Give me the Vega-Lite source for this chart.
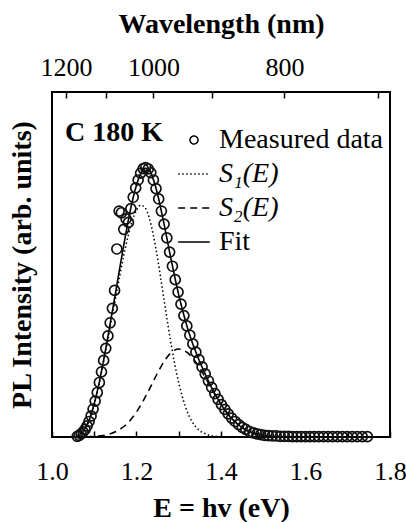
{
  "$schema": "https://vega.github.io/schema/vega-lite/v6.json",
  "width": 338,
  "height": 345,
  "autosize": {"type": "none"},
  "padding": {"left": 52, "top": 92, "right": 16, "bottom": 85},
  "background": "white",
  "datasets": {
    "meas": [
      {"E":1.0598,"I":0.002},{"E":1.0644,"I":0.005},{"E":1.0690,"I":0.009},{"E":1.0736,"I":0.015},
      {"E":1.0783,"I":0.022},{"E":1.0830,"I":0.032},{"E":1.0877,"I":0.045},{"E":1.0925,"I":0.061},
      {"E":1.0973,"I":0.081},{"E":1.1022,"I":0.104},{"E":1.1071,"I":0.129},{"E":1.1121,"I":0.158},
      {"E":1.1171,"I":0.189},{"E":1.1222,"I":0.222},{"E":1.1273,"I":0.257},{"E":1.1324,"I":0.293},
      {"E":1.1376,"I":0.331},{"E":1.1429,"I":0.373},{"E":1.1481,"I":0.425},{"E":1.1535,"I":0.545},
      {"E":1.1589,"I":0.655},{"E":1.1643,"I":0.650},{"E":1.1698,"I":0.602},{"E":1.1754,"I":0.632},
      {"E":1.1810,"I":0.622},{"E":1.1866,"I":0.662},{"E":1.1923,"I":0.695},{"E":1.1981,"I":0.722},
      {"E":1.2039,"I":0.745},{"E":1.2098,"I":0.765},{"E":1.2157,"I":0.778},{"E":1.2217,"I":0.781},
      {"E":1.2277,"I":0.777},{"E":1.2338,"I":0.766},{"E":1.2400,"I":0.745},{"E":1.2462,"I":0.720},
      {"E":1.2525,"I":0.690},{"E":1.2589,"I":0.655},{"E":1.2653,"I":0.617},{"E":1.2718,"I":0.577},
      {"E":1.2784,"I":0.536},{"E":1.2850,"I":0.495},{"E":1.2917,"I":0.456},{"E":1.2984,"I":0.420},
      {"E":1.3053,"I":0.385},{"E":1.3122,"I":0.352},{"E":1.3191,"I":0.322},{"E":1.3262,"I":0.295},
      {"E":1.3333,"I":0.270},{"E":1.3405,"I":0.246},{"E":1.3478,"I":0.224},{"E":1.3552,"I":0.203},
      {"E":1.3626,"I":0.183},{"E":1.3702,"I":0.163},{"E":1.3778,"I":0.144},{"E":1.3855,"I":0.126},
      {"E":1.3933,"I":0.109},{"E":1.4011,"I":0.094},{"E":1.4091,"I":0.080},{"E":1.4171,"I":0.067},
      {"E":1.4253,"I":0.055},{"E":1.4335,"I":0.045},{"E":1.4419,"I":0.036},{"E":1.4503,"I":0.028},
      {"E":1.4588,"I":0.022},{"E":1.4675,"I":0.016},{"E":1.4762,"I":0.012},{"E":1.4850,"I":0.009},
      {"E":1.4940,"I":0.007},{"E":1.5030,"I":0.005},{"E":1.5122,"I":0.004},{"E":1.5215,"I":0.003},
      {"E":1.5309,"I":0.003},{"E":1.5404,"I":0.002},{"E":1.5500,"I":0.002},{"E":1.5597,"I":0.002},
      {"E":1.5696,"I":0.001},{"E":1.5796,"I":0.001},{"E":1.5897,"I":0.001},{"E":1.6000,"I":0.001},
      {"E":1.6104,"I":0.001},{"E":1.6209,"I":0.001},{"E":1.6316,"I":0.001},{"E":1.6424,"I":0.001},
      {"E":1.6533,"I":0.001},{"E":1.6644,"I":0.001},{"E":1.6757,"I":0.001},{"E":1.6871,"I":0.001},
      {"E":1.6986,"I":0.001},{"E":1.7103,"I":0.001},{"E":1.7222,"I":0.001},{"E":1.7343,"I":0.001},
      {"E":1.7465,"I":0.001}
    ],
    "curves": [
      {"E":1.06,"I":0.005,"series":"S₁(E)"},{"E":1.07,"I":0.012,"series":"S₁(E)"},{"E":1.08,"I":0.028,"series":"S₁(E)"},
      {"E":1.09,"I":0.055,"series":"S₁(E)"},{"E":1.10,"I":0.095,"series":"S₁(E)"},{"E":1.11,"I":0.145,"series":"S₁(E)"},
      {"E":1.12,"I":0.205,"series":"S₁(E)"},{"E":1.13,"I":0.268,"series":"S₁(E)"},{"E":1.14,"I":0.335,"series":"S₁(E)"},
      {"E":1.15,"I":0.400,"series":"S₁(E)"},{"E":1.16,"I":0.465,"series":"S₁(E)"},{"E":1.17,"I":0.527,"series":"S₁(E)"},
      {"E":1.18,"I":0.582,"series":"S₁(E)"},{"E":1.19,"I":0.627,"series":"S₁(E)"},{"E":1.20,"I":0.658,"series":"S₁(E)"},
      {"E":1.21,"I":0.672,"series":"S₁(E)"},{"E":1.22,"I":0.665,"series":"S₁(E)"},{"E":1.23,"I":0.636,"series":"S₁(E)"},
      {"E":1.24,"I":0.584,"series":"S₁(E)"},{"E":1.25,"I":0.517,"series":"S₁(E)"},{"E":1.26,"I":0.439,"series":"S₁(E)"},
      {"E":1.27,"I":0.360,"series":"S₁(E)"},{"E":1.28,"I":0.283,"series":"S₁(E)"},{"E":1.29,"I":0.215,"series":"S₁(E)"},
      {"E":1.30,"I":0.157,"series":"S₁(E)"},{"E":1.31,"I":0.110,"series":"S₁(E)"},{"E":1.32,"I":0.074,"series":"S₁(E)"},
      {"E":1.33,"I":0.048,"series":"S₁(E)"},{"E":1.34,"I":0.030,"series":"S₁(E)"},{"E":1.35,"I":0.018,"series":"S₁(E)"},
      {"E":1.36,"I":0.011,"series":"S₁(E)"},{"E":1.37,"I":0.006,"series":"S₁(E)"},{"E":1.38,"I":0.003,"series":"S₁(E)"},
      {"E":1.39,"I":0.0015,"series":"S₁(E)"},{"E":1.40,"I":0.0007,"series":"S₁(E)"},

      {"E":1.08,"I":0.0006,"series":"S₂(E)"},{"E":1.09,"I":0.001,"series":"S₂(E)"},{"E":1.10,"I":0.0016,"series":"S₂(E)"},
      {"E":1.11,"I":0.0027,"series":"S₂(E)"},{"E":1.12,"I":0.0043,"series":"S₂(E)"},{"E":1.13,"I":0.0067,"series":"S₂(E)"},
      {"E":1.14,"I":0.0101,"series":"S₂(E)"},{"E":1.15,"I":0.0150,"series":"S₂(E)"},{"E":1.16,"I":0.0216,"series":"S₂(E)"},
      {"E":1.17,"I":0.0304,"series":"S₂(E)"},{"E":1.18,"I":0.0416,"series":"S₂(E)"},{"E":1.19,"I":0.0556,"series":"S₂(E)"},
      {"E":1.20,"I":0.0724,"series":"S₂(E)"},{"E":1.21,"I":0.092,"series":"S₂(E)"},{"E":1.22,"I":0.114,"series":"S₂(E)"},
      {"E":1.23,"I":0.1376,"series":"S₂(E)"},{"E":1.24,"I":0.162,"series":"S₂(E)"},{"E":1.25,"I":0.186,"series":"S₂(E)"},
      {"E":1.26,"I":0.2085,"series":"S₂(E)"},{"E":1.27,"I":0.2277,"series":"S₂(E)"},{"E":1.28,"I":0.2425,"series":"S₂(E)"},
      {"E":1.29,"I":0.2518,"series":"S₂(E)"},{"E":1.30,"I":0.255,"series":"S₂(E)"},{"E":1.31,"I":0.2525,"series":"S₂(E)"},
      {"E":1.32,"I":0.245,"series":"S₂(E)"},{"E":1.33,"I":0.2332,"series":"S₂(E)"},{"E":1.34,"I":0.2176,"series":"S₂(E)"},
      {"E":1.35,"I":0.199,"series":"S₂(E)"},{"E":1.36,"I":0.1785,"series":"S₂(E)"},{"E":1.37,"I":0.1568,"series":"S₂(E)"},
      {"E":1.38,"I":0.1351,"series":"S₂(E)"},{"E":1.39,"I":0.1142,"series":"S₂(E)"},{"E":1.40,"I":0.0946,"series":"S₂(E)"},
      {"E":1.41,"I":0.0768,"series":"S₂(E)"},{"E":1.42,"I":0.0611,"series":"S₂(E)"},{"E":1.43,"I":0.0477,"series":"S₂(E)"},
      {"E":1.44,"I":0.0365,"series":"S₂(E)"},{"E":1.45,"I":0.0274,"series":"S₂(E)"},{"E":1.46,"I":0.0201,"series":"S₂(E)"},
      {"E":1.47,"I":0.0145,"series":"S₂(E)"},{"E":1.48,"I":0.0103,"series":"S₂(E)"},{"E":1.49,"I":0.0071,"series":"S₂(E)"},
      {"E":1.50,"I":0.0048,"series":"S₂(E)"},{"E":1.51,"I":0.0032,"series":"S₂(E)"},{"E":1.52,"I":0.0021,"series":"S₂(E)"},
      {"E":1.53,"I":0.0013,"series":"S₂(E)"},{"E":1.54,"I":0.0008,"series":"S₂(E)"},{"E":1.56,"I":0.0003,"series":"S₂(E)"},
      {"E":1.58,"I":0.0001,"series":"S₂(E)"},

      {"E":1.06,"I":0.005,"series":"Fit"},{"E":1.07,"I":0.012,"series":"Fit"},{"E":1.08,"I":0.029,"series":"Fit"},
      {"E":1.09,"I":0.056,"series":"Fit"},{"E":1.10,"I":0.097,"series":"Fit"},{"E":1.11,"I":0.148,"series":"Fit"},
      {"E":1.12,"I":0.209,"series":"Fit"},{"E":1.13,"I":0.275,"series":"Fit"},{"E":1.14,"I":0.345,"series":"Fit"},
      {"E":1.15,"I":0.415,"series":"Fit"},{"E":1.16,"I":0.487,"series":"Fit"},{"E":1.17,"I":0.557,"series":"Fit"},
      {"E":1.18,"I":0.624,"series":"Fit"},{"E":1.19,"I":0.683,"series":"Fit"},{"E":1.20,"I":0.730,"series":"Fit"},
      {"E":1.21,"I":0.764,"series":"Fit"},{"E":1.22,"I":0.779,"series":"Fit"},{"E":1.23,"I":0.774,"series":"Fit"},
      {"E":1.24,"I":0.746,"series":"Fit"},{"E":1.25,"I":0.703,"series":"Fit"},{"E":1.26,"I":0.648,"series":"Fit"},
      {"E":1.27,"I":0.588,"series":"Fit"},{"E":1.28,"I":0.526,"series":"Fit"},{"E":1.29,"I":0.467,"series":"Fit"},
      {"E":1.30,"I":0.412,"series":"Fit"},{"E":1.31,"I":0.363,"series":"Fit"},{"E":1.32,"I":0.319,"series":"Fit"},
      {"E":1.33,"I":0.281,"series":"Fit"},{"E":1.34,"I":0.248,"series":"Fit"},{"E":1.35,"I":0.217,"series":"Fit"},
      {"E":1.36,"I":0.190,"series":"Fit"},{"E":1.37,"I":0.163,"series":"Fit"},{"E":1.38,"I":0.138,"series":"Fit"},
      {"E":1.39,"I":0.116,"series":"Fit"},{"E":1.40,"I":0.095,"series":"Fit"},{"E":1.41,"I":0.077,"series":"Fit"},
      {"E":1.42,"I":0.061,"series":"Fit"},{"E":1.43,"I":0.048,"series":"Fit"},{"E":1.44,"I":0.037,"series":"Fit"},
      {"E":1.45,"I":0.027,"series":"Fit"},{"E":1.46,"I":0.020,"series":"Fit"},{"E":1.47,"I":0.015,"series":"Fit"},
      {"E":1.48,"I":0.010,"series":"Fit"},{"E":1.49,"I":0.007,"series":"Fit"},{"E":1.50,"I":0.005,"series":"Fit"},
      {"E":1.51,"I":0.003,"series":"Fit"},{"E":1.52,"I":0.002,"series":"Fit"},{"E":1.53,"I":0.001,"series":"Fit"},
      {"E":1.54,"I":0.001,"series":"Fit"},{"E":1.56,"I":0.0003,"series":"Fit"},{"E":1.60,"I":0.0001,"series":"Fit"},
      {"E":1.65,"I":0.0,"series":"Fit"},{"E":1.70,"I":0.0,"series":"Fit"},{"E":1.75,"I":0.0,"series":"Fit"}
    ],
    "ann": [
      {"E":1.031,"I":0.881,"label":"C 180 K"}
    ]
  },
  "layer": [
    {
      "data": {"name": "curves"},
      "mark": {"type": "line", "interpolate": "monotone", "color": "black"},
      "encoding": {
        "x": {
          "field": "E", "type": "quantitative",
          "scale": {"domain": [1.0, 1.8], "nice": false, "zero": false},
          "axis": {
            "orient": "bottom",
            "values": [1.0, 1.1, 1.2, 1.3, 1.4, 1.5, 1.6, 1.7, 1.8],
            "labelExpr": "round(datum.value*10) % 2 == 0 ? format(datum.value, '.1f') : ''",
            "title": "E = hv (eV)",
            "labelPadding": 27,
            "titlePadding": 10
          }
        },
        "y": {
          "field": "I", "type": "quantitative",
          "scale": {"domain": [0, 1], "nice": false, "zero": true},
          "axis": {
            "title": "PL Intensity (arb. units)",
            "labels": false, "ticks": false, "domain": false,
            "titlePadding": 16
          }
        },
        "strokeDash": {
          "field": "series", "type": "nominal",
          "scale": {"domain": ["Measured data", "S₁(E)", "S₂(E)", "Fit"], "range": [[1, 0], [1.5, 2.5], [7, 5], [1, 0]]},
          "legend": {
            "orient": "none", "legendX": 125, "legendY": 31, "title": null,
            "padding": 0, "rowPadding": 3, "labelOffset": 8, "labelLimit": 400,
            "labelFont": "Liberation Serif", "labelFontSize": 28, "labelColor": "black",
            "symbolSize": 1000, "symbolStrokeColor": "black", "symbolStrokeWidth": 1.5,
            "symbolType": "stroke",
            "encode": {
              "symbols": {"update": {
                "shape": {"signal": "datum.value === 'Measured data' ? 'circle' : 'stroke'"},
                "size": {"signal": "datum.value === 'Measured data' ? 64 : 1000"},
                "fill": {"value": "transparent"},
                "stroke": {"value": "black"},
                "opacity": {"value": 1}
              }},
              "labels": {"update": {
                "fontStyle": {"signal": "datum.value === 'Fit' || datum.value === 'Measured data' ? 'normal' : 'italic'"}
              }}
            }
          }
        },
        "strokeWidth": {
          "field": "series", "type": "nominal",
          "scale": {"domain": ["Measured data", "S₁(E)", "S₂(E)", "Fit"], "range": [1.5, 1.6, 1.8, 2]},
          "legend": null
        }
      }
    },
    {
      "data": {"name": "meas"},
      "mark": {"type": "point", "filled": false, "size": 100, "strokeWidth": 1.7, "color": "#111", "opacity": 1},
      "encoding": {
        "x": {
          "field": "E", "type": "quantitative",
          "axis": {
            "orient": "top",
            "values": [1.0333, 1.1273, 1.24, 1.3778, 1.55, 1.7714],
            "labelExpr": "round(1240/datum.value) % 200 == 0 ? '' + round(1240/datum.value) : ''",
            "title": "Wavelength (nm)",
            "labelPadding": 18,
            "titlePadding": 16
          }
        },
        "y": {"field": "I", "type": "quantitative", "axis": null}
      }
    },
    {
      "data": {"name": "ann"},
      "mark": {"type": "text", "align": "left", "baseline": "middle", "fontSize": 28, "fontWeight": "bold", "font": "Liberation Serif", "color": "black"},
      "encoding": {
        "x": {"field": "E", "type": "quantitative", "axis": null},
        "y": {"field": "I", "type": "quantitative", "axis": null},
        "text": {"field": "label"}
      }
    }
  ],
  "resolve": {"axis": {"x": "independent", "y": "independent"}},
  "config": {
    "font": "Liberation Serif",
    "view": {"stroke": "black", "strokeWidth": 2},
    "axis": {
      "domain": false,
      "grid": false,
      "tickSize": -6,
      "tickWidth": 1.5,
      "tickColor": "black",
      "labelFont": "Liberation Serif",
      "labelFontSize": 26,
      "labelColor": "black",
      "labelFlush": false,
      "labelOverlap": false,
      "labelBound": false,
      "titleFont": "Liberation Serif",
      "titleFontSize": 28,
      "titleFontWeight": "bold",
      "titleColor": "black"
    }
  }
}
